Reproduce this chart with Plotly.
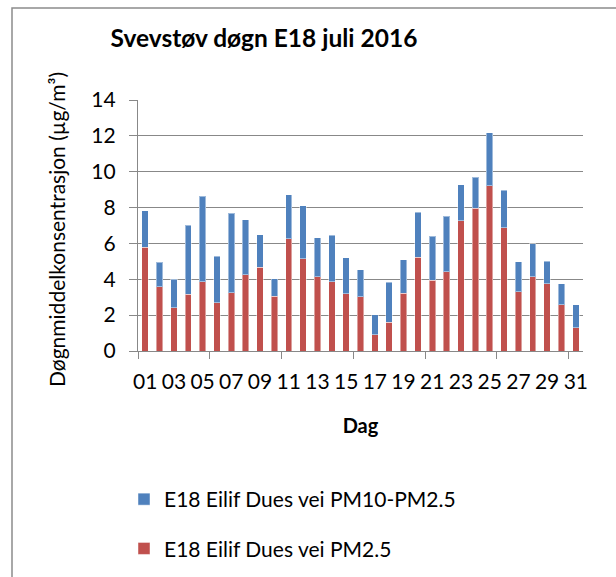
import plotly.graph_objects as go

days = list(range(1, 32))
day_labels = [f"{d:02d}" for d in days]
total = [7.81, 4.94, 4.01, 7.01, 8.64, 5.28, 7.68, 7.32, 6.49, 4.03,
         8.72, 8.10, 6.32, 6.47, 5.20, 4.52, 2.03, 3.83, 5.09, 7.75,
         6.39, 7.51, 9.26, 9.70, 12.16, 8.96, 4.98, 5.97, 5.02, 3.75, 2.58]
pm25 = [5.80, 3.57, 2.40, 3.16, 3.85, 2.68, 3.25, 4.26, 4.68, 3.05,
        6.25, 5.15, 4.13, 3.85, 3.18, 3.03, 0.91, 1.60, 3.23, 5.24,
        3.94, 4.41, 7.27, 7.97, 9.22, 6.88, 3.31, 4.14, 3.74, 2.57, 1.30]
coarse = [round(t - f, 2) for t, f in zip(total, pm25)]

FONT = "Lato"
GRID = "#888888"

fig = go.Figure()
fig.add_trace(go.Bar(x=days, y=pm25, name="E18 Eilif Dues vei PM2.5",
                     marker=dict(color="#C0504D", line=dict(color="rgba(255,255,255,0.45)", width=1)),
                     width=0.45, legendgroup="a", legendrank=2))
fig.add_trace(go.Bar(x=days, y=coarse, name="E18 Eilif Dues vei PM10-PM2.5",
                     marker=dict(color="#4F81BD", line=dict(color="rgba(255,255,255,0.45)", width=1)),
                     width=0.45, legendgroup="b", legendrank=1))

tick_bounds = [0.5 + 5 * i for i in range(6)] + [30.5]

fig.update_layout(
    width=616, height=577,
    barmode="stack",
    paper_bgcolor="white", plot_bgcolor="white",
    margin=dict(l=138, r=33, t=100, b=226, autoexpand=False),
    font=dict(family=FONT, size=21, color="black"),
    title=dict(text="<b>Svevstøv døgn E18 juli 2016</b>", x=264/616, xanchor="center",
               y=1 - 38/577, yanchor="middle", font=dict(size=24.5, family=FONT)),
    xaxis=dict(range=[0.5, 31.5], tickmode="array",
               tickvals=days[::2], ticktext=day_labels[::2],
               ticks="", tickangle=0, showgrid=False, zeroline=False,
               showline=True, linecolor=GRID, linewidth=1.3,
               ticklabelstandoff=12,
               minor=dict(tickmode="array", tickvals=tick_bounds, ticks="outside",
                          ticklen=7, tickcolor=GRID, tickwidth=1.3, showgrid=False),
               title=dict(text="<b>Dag</b>", standoff=26, font=dict(size=20))),
    yaxis=dict(range=[0, 14], tickmode="array", tickvals=list(range(0, 15, 2)),
               showgrid=True, gridcolor=GRID, gridwidth=1.3, zeroline=False,
               showline=True, linecolor=GRID, linewidth=1.3,
               ticks="outside", ticklen=8, tickcolor=GRID, tickwidth=1.3,
               ticklabelstandoff=9),
    legend=dict(x=(124 - 138) / 445, xanchor="left", y=(351 - 479) / 251, yanchor="top",
                traceorder="grouped", tracegroupgap=19, font=dict(size=21),
                bgcolor="rgba(0,0,0,0)"),
    showlegend=True,
    bargap=0.55,
)

fig.add_annotation(text="Døgnmiddelkonsentrasjon (µg/m³)", xref="paper", yref="paper",
                   x=(56 - 138) / 445, y=(351 - 230) / 251, xanchor="center", yanchor="middle",
                   textangle=-90, showarrow=False, font=dict(size=21, family=FONT))

fig.add_shape(type="rect", xref="paper", yref="paper",
              x0=(12 - 138) / 445, x1=(620 - 138) / 445,
              y0=(351 - 585) / 251, y1=(351 - 8) / 251,
              line=dict(color="#8c8c8c", width=1.5), fillcolor="rgba(0,0,0,0)", layer="below")

fig.write_html("out.html", config={"displayModeBar": False},
               post_script="document.body.style.margin='0px';document.body.style.overflow='hidden';")
